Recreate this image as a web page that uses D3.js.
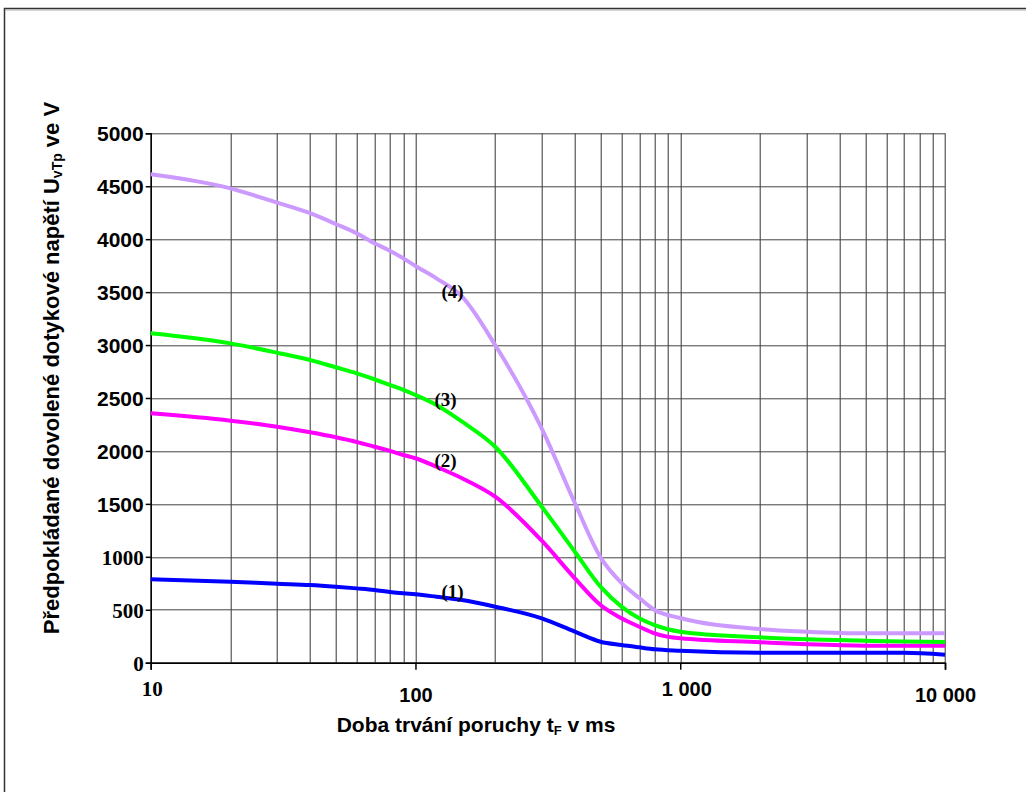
<!DOCTYPE html>
<html>
<head>
<meta charset="utf-8">
<script src="https://cdn.jsdelivr.net/npm/d3@7/dist/d3.min.js"></script>
<style>
  html, body { margin: 0; padding: 0; background: #fff; }
  svg { display: block; }
</style>
</head>
<body>
<div id="chart"></div>
<script>
// Fault duration in ms (log axis)
const durations = [10, 20, 30, 40, 50, 60, 70, 80, 90, 100, 120, 150, 200, 300, 400, 500, 600, 700, 800, 1000, 2000, 3000, 5000, 7000, 10000];

// Prospective permissible touch voltage in V
const curve1 = [787, 765, 746, 734, 718, 702, 687, 668, 655, 646, 623, 592, 529, 419, 293, 198, 167, 145, 127, 113, 94, 94, 94, 94, 76];
const curve2 = [2355, 2286, 2229, 2176, 2129, 2085, 2040, 2000, 1962, 1931, 1851, 1742, 1568, 1152, 797, 545, 419, 340, 277, 230, 193, 174, 161, 161, 161];
const curve3 = [3111, 3016, 2928, 2859, 2790, 2733, 2677, 2623, 2576, 2528, 2434, 2276, 2040, 1473, 1048, 718, 529, 419, 356, 293, 240, 221, 208, 200, 196];
const curve4 = [4613, 4480, 4345, 4245, 4143, 4055, 3961, 3891, 3819, 3747, 3630, 3457, 3000, 2210, 1508, 995, 753, 611, 498, 422, 318, 293, 277, 277, 277];

const seriesNames = ['(1)', '(2)', '(3)', '(4)'];
const seriesValues = [curve1, curve2, curve3, curve4];
const seriesColors = ['#0000ff', '#ff00ff', '#00ff00', '#cc99ff'];
// where each curve label sits: [duration ms, voltage V]
const labelAnchors = [[138, 671], [130, 1908], [130, 2488], [138, 3504]];

const yTicks = [0, 500, 1000, 1500, 2000, 2500, 3000, 3500, 4000, 4500, 5000];
const xMajorTicks = [10, 100, 1000, 10000];
const xTickLabels = ['10', '100', '1 000', '10 000'];

const W = 1026, H = 792;
const margin = { top: 133.3, right: 81, bottom: 129.3, left: 150.7 };
const innerW = W - margin.left - margin.right;
const innerH = H - margin.top - margin.bottom;

const SANS = '"Liberation Sans", Arial, sans-serif';
const SERIF = '"Liberation Serif", "Times New Roman", serif';

const svg = d3.select('#chart').append('svg')
  .attr('width', W)
  .attr('height', H)
  .attr('viewBox', `0 0 ${W} ${H}`);

// outer frame (runs off the right and bottom edge)
svg.append('rect')
  .attr('x', 4.5).attr('y', 8.5)
  .attr('width', W + 20).attr('height', H + 20)
  .attr('fill', 'none')
  .attr('stroke', '#333')
  .attr('stroke-width', 1.5);
svg.append('line')
  .attr('x1', 5).attr('x2', W).attr('y1', 10).attr('y2', 10)
  .attr('stroke', '#aaa').attr('stroke-width', 1);

const g = svg.append('g').attr('transform', `translate(${margin.left},${margin.top})`);

const x = d3.scaleLog().domain([10, 10000]).range([0, innerW]);
const y = d3.scaleLinear().domain([0, 5000]).range([innerH, 0]);

// minor + major vertical grid (1..9 per decade)
const xGrid = [];
for (let dec = 10; dec < 10000; dec *= 10) {
  for (let k = 1; k <= 9; k++) xGrid.push(dec * k);
}
xGrid.push(10000);

g.append('g').attr('class', 'x-grid')
  .selectAll('line').data(xGrid).join('line')
  .attr('x1', d => Math.round(x(d)) + 0.5)
  .attr('x2', d => Math.round(x(d)) + 0.5)
  .attr('y1', 0).attr('y2', innerH)
  .attr('stroke', '#333').attr('stroke-width', 1);

g.append('g').attr('class', 'y-grid')
  .selectAll('line').data(yTicks).join('line')
  .attr('x1', 0).attr('x2', innerW)
  .attr('y1', d => Math.round(y(d)) + 0.5)
  .attr('y2', d => Math.round(y(d)) + 0.5)
  .attr('stroke', '#444').attr('stroke-width', 1);

// y axis
const yAxis = d3.axisLeft(y).tickValues(yTicks).tickSize(5).tickFormat(d3.format('d'));
const yAxisG = g.append('g').attr('class', 'y-axis').call(yAxis);
yAxisG.select('.domain').attr('stroke', '#000').attr('stroke-width', 1.5);
yAxisG.selectAll('line').attr('stroke', '#000').attr('stroke-width', 1.5);
yAxisG.selectAll('text')
  .attr('fill', '#000')
  .attr('x', -7)
  .attr('dy', '0.36em')
  .style('font-weight', 'bold')
  .style('font-family', d => d <= 1000 ? SERIF : SANS)
  .style('font-size', d => d <= 1000 ? '21px' : '21px');

// x axis
const xAxis = d3.axisBottom(x).tickValues(xMajorTicks).tickSize(7)
  .tickFormat((d, i) => xTickLabels[i]);
const xAxisG = g.append('g').attr('class', 'x-axis')
  .attr('transform', `translate(0,${innerH})`)
  .call(xAxis);
xAxisG.select('.domain').attr('stroke', '#000').attr('stroke-width', 1.5);
xAxisG.selectAll('line').attr('stroke', '#000').attr('stroke-width', 1.5);
xAxisG.selectAll('text')
  .attr('fill', '#000')
  .attr('dy', 0)
  .attr('y', (d, i) => i % 2 === 0 ? 33 : 39)
  .attr('dx', (d, i) => i === 2 ? 6 : (i === 0 ? 1 : 0))
  .style('font-weight', 'bold')
  .style('font-family', d => d === 10 ? SERIF : SANS)
  .style('font-size', d => d === 10 ? '21px' : '20px');

// curves
const line = d3.line()
  .x(d => x(d[0]))
  .y(d => y(d[1]))
  .curve(d3.curveMonotoneX);

seriesValues.forEach((vals, i) => {
  g.append('path')
    .datum(durations.map((t, j) => [t, vals[j]]))
    .attr('fill', 'none')
    .attr('stroke', seriesColors[i])
    .attr('stroke-width', 4)
    .attr('stroke-linejoin', 'round')
    .attr('d', line);
});

// curve labels
g.append('g').selectAll('text').data(seriesNames).join('text')
  .attr('x', (d, i) => x(labelAnchors[i][0]))
  .attr('y', (d, i) => y(labelAnchors[i][1]))
  .attr('dy', '0.35em')
  .attr('text-anchor', 'middle')
  .style('font-family', SERIF)
  .style('font-weight', 'bold')
  .style('font-size', '19px')
  .attr('fill', '#000')
  .text(d => d);

// axis titles
const xTitle = svg.append('text')
  .attr('x', 476).attr('y', 732)
  .attr('text-anchor', 'middle')
  .style('font-family', SANS)
  .style('font-weight', 'bold')
  .style('font-size', '21px');
xTitle.append('tspan').text('Doba trvání poruchy t');
xTitle.append('tspan').attr('font-size', '13px').attr('dy', 3).text('F');
xTitle.append('tspan').attr('dy', -3).text(' v ms');

const yTitle = svg.append('text')
  .attr('transform', 'translate(59,368) rotate(-90)')
  .attr('text-anchor', 'middle')
  .style('font-family', SANS)
  .style('font-weight', 'bold')
  .style('font-size', '22px');
yTitle.append('tspan').text('Předpokládané dovolené dotykové napětí U');
yTitle.append('tspan').attr('font-size', '14px').attr('dy', 3).text('vTp');
yTitle.append('tspan').attr('dy', -3).text(' ve V');
</script>
</body>
</html>
